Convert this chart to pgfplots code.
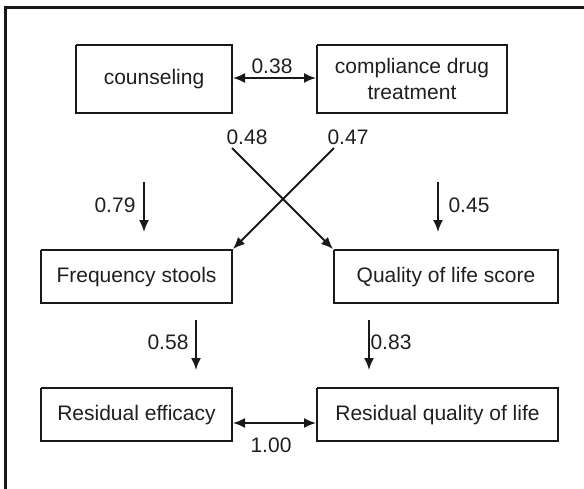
\documentclass[border=0pt]{standalone}
\usepackage{pgfplots}
\pgfplotsset{compat=1.18}
\usepackage{fontspec}
\setmainfont{Liberation Sans}
\usetikzlibrary{arrows.meta}
\tikzset{
  box/.style={black!90, line width=2.6pt, line join=miter, mark=none},
  arr/.style={black!90, line width=1.8pt, mark=none, -{Latex[length=12pt,width=10pt]}},
  darr/.style={black!90, line width=1.8pt, mark=none, {Latex[length=12pt,width=10pt]}-{Latex[length=12pt,width=10pt]}},
  lab/.style={font=\fontsize{21}{25}\selectfont, text=black!88, inner sep=0pt, anchor=center},
}
\begin{document}
\begin{tikzpicture}
\begin{axis}[
  scale only axis, width=584pt, height=488pt,
  xmin=0, xmax=584, ymin=0, ymax=488, y dir=reverse,
  axis lines=none, clip=true,
]
% outer frame (right and bottom edges lie outside the picture)
\addplot[box, line width=2.2pt] coordinates {(5.5,600) (5.5,7.5) (600,7.5)};
% boxes
\addplot[box] coordinates {(76,45) (232,45) (232,113) (76,113) (76,45)};
\addplot[box] coordinates {(317,45) (507,45) (507,113) (317,113) (317,45)};
\addplot[box] coordinates {(41,250) (232,250) (232,303) (41,303) (41,250)};
\addplot[box] coordinates {(334,250) (558,250) (558,303) (334,303) (334,250)};
\addplot[box] coordinates {(41,388) (232,388) (232,441) (41,441) (41,388)};
\addplot[box] coordinates {(317,388) (558,388) (558,441) (317,441) (317,388)};
% arrows
\addplot[darr] coordinates {(233,78) (316,78)};
\addplot[darr] coordinates {(233,423) (316,423)};
\addplot[arr] coordinates {(232,148) (333,249)};
\addplot[arr] coordinates {(334,148) (233,249)};
\addplot[arr] coordinates {(144,182) (144,232)};
\addplot[arr] coordinates {(438,182) (438,232)};
\addplot[arr] coordinates {(196,320) (196,370)};
\addplot[arr] coordinates {(369,320) (369,370)};
% texts
\node[lab] at (axis cs:154,79) {counseling};
\node[lab] at (axis cs:412,68) {compliance drug};
\node[lab] at (axis cs:412,93) {treatment};
\node[lab] at (axis cs:136.5,277) {Frequency stools};
\node[lab] at (axis cs:446,277) {Quality of life score};
\node[lab] at (axis cs:136.5,415) {Residual efficacy};
\node[lab] at (axis cs:437.5,415) {Residual quality of life};
\node[lab] at (axis cs:272,66) {0.38};
\node[lab] at (axis cs:247,137) {0.48};
\node[lab] at (axis cs:348,137) {0.47};
\node[lab] at (axis cs:115,205) {0.79};
\node[lab] at (axis cs:469,205) {0.45};
\node[lab] at (axis cs:168,342) {0.58};
\node[lab] at (axis cs:391,342) {0.83};
\node[lab] at (axis cs:271,445) {1.00};
\end{axis}
\pgfresetboundingbox
\path[use as bounding box] (current axis.south west) rectangle (current axis.north east);
\end{tikzpicture}
\end{document}
